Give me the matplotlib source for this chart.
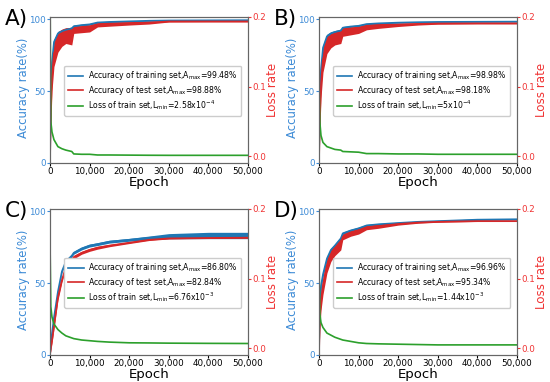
import matplotlib
matplotlib.use("Agg")
import matplotlib.pyplot as plt
from matplotlib.ticker import FuncFormatter
import numpy as np

epochs = [0, 200, 500, 1000, 2000, 3000, 4000, 5500, 6000, 8000, 10000,
          12000, 15000, 20000, 25000, 30000, 40000, 50000]

# panel A
train_a = [0, 45, 70, 84, 90, 91.5, 92.5, 93.5, 95, 95.8, 96.3, 97.6, 98, 98.4, 98.8, 99, 99.1, 99.2]
train_a_sp = [0, 3, 3, 2, 1.5, 1.2, 1, 1, 0.8, 0.6, 0.6, 0.5, 0.4, 0.3, 0.3, 0.3, 0.3, 0.3]
test_a = [0, 35, 60, 76, 84, 87, 88.5, 88, 92.5, 93, 93.5, 96, 96.5, 97, 97.5, 98.3, 98.3, 98.3]
test_a_sp = [0, 10, 10, 9, 7, 6, 5.5, 6, 2.5, 2.5, 2.5, 1.5, 1.5, 1.2, 1, 0.4, 0.3, 0.3]
loss_a = [0.25, 0.05, 0.035, 0.024, 0.014, 0.011, 0.009, 0.007, 0.0035, 0.003, 0.003, 0.002, 0.002, 0.0018, 0.0016, 0.0015, 0.0015, 0.0015]

# panel B
train_b = [0, 40, 65, 80, 88, 90, 91, 92, 94, 94.8, 95.3, 96.5, 97, 97.5, 97.8, 98, 98.1, 98.2]
train_b_sp = [0, 3, 3, 2, 1.5, 1.2, 1, 1, 0.8, 0.6, 0.6, 0.5, 0.4, 0.3, 0.3, 0.3, 0.3, 0.3]
test_b = [0, 30, 55, 72, 82, 85, 86.5, 87.5, 91, 91.8, 92.5, 94.5, 95.3, 96, 96.6, 96.9, 97, 97]
test_b_sp = [0, 10, 10, 9, 6, 5, 4.5, 4.5, 3, 2.8, 2.5, 2, 1.8, 1.2, 0.8, 0.5, 0.4, 0.4]
loss_b = [0.11, 0.05, 0.03, 0.02, 0.014, 0.012, 0.01, 0.009, 0.007, 0.0065, 0.006, 0.004, 0.004, 0.0035, 0.0035, 0.003, 0.003, 0.003]

# panel C
train_c = [0, 8, 15, 26, 44, 58, 65, 69, 71, 74, 76, 77, 78.7, 80, 81.4, 82.5, 83, 83]
train_c_sp = [0, 2, 2, 1.5, 1.2, 1, 1, 1, 1, 1, 1, 1, 1, 1, 1.2, 1.8, 2.2, 2.2]
test_c = [0, 5, 10, 20, 40, 52, 61, 66, 68, 71, 73, 74.5, 76, 78, 80, 81, 81.3, 81.5]
test_c_sp = [0, 2, 2, 2, 2, 1.5, 1.5, 1.2, 1.2, 1, 1, 1, 0.8, 0.6, 0.5, 0.4, 0.4, 0.4]
loss_c = [0.155, 0.06, 0.045, 0.035, 0.027, 0.022, 0.018, 0.015, 0.014, 0.012, 0.011, 0.01, 0.009, 0.008, 0.0078, 0.0075, 0.0072, 0.007]

# panel D
train_d = [0, 35, 48, 56, 67, 73, 76, 81, 84.5, 86.5, 88, 90, 90.8, 91.7, 92.5, 93, 94, 94.3]
train_d_sp = [0, 3, 3, 2, 1.5, 1.2, 1, 1, 0.8, 0.8, 0.8, 0.7, 0.6, 0.5, 0.5, 0.5, 0.5, 0.5]
test_d = [0, 25, 38, 48, 62, 69, 73, 77, 82, 84.5, 86, 88.5, 89.5, 91, 92, 92.5, 93, 93]
test_d_sp = [0, 8, 7, 6, 5, 4, 4, 4, 2, 2, 2, 1.5, 1.5, 0.8, 0.5, 0.3, 0.3, 0.3]
loss_d = [0.13, 0.05, 0.037, 0.03, 0.022, 0.019, 0.016, 0.013, 0.012, 0.01, 0.008, 0.007, 0.0065, 0.006, 0.0055, 0.005, 0.005, 0.005]

labels = ['A)', 'B)', 'C)', 'D)']
train_max = ['99.48%', '98.98%', '86.80%', '96.96%']
test_max = ['98.88%', '98.18%', '82.84%', '95.34%']
loss_min = [r'2.58x10$^{-4}$', r'5x10$^{-4}$', r'6.76x10$^{-3}$', r'1.44x10$^{-3}$']

panels = [
    (train_a, train_a_sp, test_a, test_a_sp, loss_a),
    (train_b, train_b_sp, test_b, test_b_sp, loss_b),
    (train_c, train_c_sp, test_c, test_c_sp, loss_c),
    (train_d, train_d_sp, test_d, test_d_sp, loss_d),
]

blue = '#1f77b4'
red = '#d62728'
green = '#2ca02c'
lblue = '#3d8bd6'
lred = '#f03434'

W, H = 550, 382
fig = plt.figure(figsize=(5.5, 3.82), dpi=100)

# axes boxes in pixels: left, top
boxes = [(50, 17), (319, 17), (50, 209), (319, 209)]
aw, ah = 198, 146

ep = np.array(epochs)
for i, (tr, trs, te, tes, lo) in enumerate(panels):
    left, top = boxes[i]
    ax = fig.add_axes([left / W, (H - top - ah) / H, aw / W, ah / H])
    ax2 = ax.twinx()

    tr = np.array(tr); trs = np.array(trs)
    te = np.array(te); tes = np.array(tes)
    ax.fill_between(ep, tr - trs, tr + trs, color=blue, lw=0)
    l1, = ax.plot(ep, tr, color=blue, lw=1.2)
    ax.fill_between(ep, te - tes, te + tes, color=red, lw=0)
    l2, = ax.plot(ep, te, color=red, lw=1.2)
    l3, = ax2.plot(ep, lo, color=green, lw=1.2)

    ax.set_xlim(0, 50000)
    ax.set_ylim(0, 101.4)
    ax2.set_ylim(-0.0095, 0.2)
    ax.set_yticks([0, 50, 100])
    ax2.set_yticks([0.0, 0.1, 0.2])
    ax2.yaxis.set_major_formatter(FuncFormatter(lambda v, p: '%.1f' % v))
    ax.set_xticks([0, 10000, 20000, 30000, 40000, 50000])
    ax.xaxis.set_major_formatter(FuncFormatter(lambda v, p: '{:,.0f}'.format(v)))

    ax.tick_params(axis='x', labelsize=6.3, length=2, pad=1, colors='black')
    ax.tick_params(axis='y', labelsize=6.3, length=2, pad=1, labelcolor=lblue, color=lblue)
    ax2.tick_params(axis='y', labelsize=6.3, length=2, pad=1, labelcolor=lred, color=lred)
    for a in (ax, ax2):
        for s in a.spines.values():
            s.set_color('#666666')

    ax.set_xlabel('Epoch', fontsize=9.5, labelpad=0)
    ax.set_ylabel('Accuracy rate(%)', fontsize=8.4, color=lblue)
    ax.yaxis.set_label_coords(-0.1, 0.515)
    ax2.set_ylabel('Loss rate', fontsize=8.6, color=lred, labelpad=0)

    ax2.legend([l1, l2, l3],
               ['Accuracy of training set,A$_{\\mathrm{max}}$=' + train_max[i],
                'Accuracy of test set,A$_{\\mathrm{max}}$=' + test_max[i],
                'Loss of train set,L$_{\\mathrm{min}}$=' + loss_min[i]],
               loc='center right', bbox_to_anchor=(0.985, 0.495), fontsize=5.6,
               handlelength=2.0, handletextpad=0.6, borderpad=0.45,
               labelspacing=0.2, framealpha=1)

    fig.text((left - 45) / W, 1 - (top - 8) / H, labels[i], fontsize=15.5, va='top', ha='left')

fig.savefig('out.png', dpi=100)
